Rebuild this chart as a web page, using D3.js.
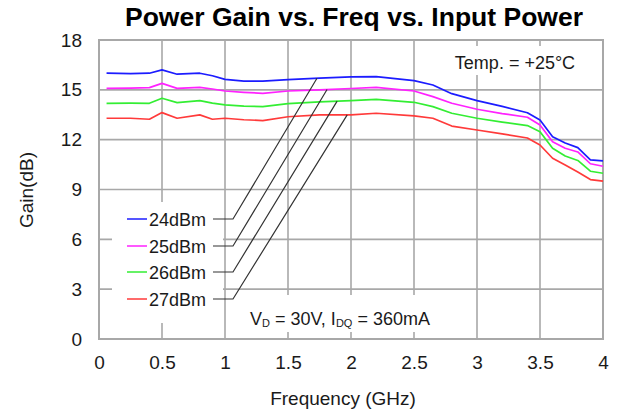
<!DOCTYPE html>
<html><head><meta charset="utf-8">
<script src="https://cdn.jsdelivr.net/npm/d3@7"></script>
<style>body{margin:0;background:#fff}svg{display:block;font-family:"Liberation Sans",Arial,sans-serif}</style>
</head><body><svg id="c" width="617" height="411"></svg>
<script>
const freq = [0.06,0.25,0.4,0.5,0.62,0.8,0.9,1.0,1.15,1.3,1.5,1.75,2.0,2.2,2.5,2.65,2.8,3.0,3.2,3.4,3.5,3.6,3.7,3.8,3.9,4.0];
const gain24 = [16.0,15.98,16.0,16.2,15.94,16.0,15.85,15.63,15.53,15.53,15.62,15.7,15.78,15.8,15.55,15.29,14.77,14.35,14.0,13.62,13.18,12.18,11.8,11.52,10.78,10.72];
const gain25 = [15.09,15.1,15.13,15.39,15.09,15.15,15.05,14.93,14.85,14.79,14.93,15.0,15.08,15.15,14.93,14.59,14.19,13.83,13.57,13.35,12.88,11.88,11.48,11.26,10.55,10.4];
const gain26 = [14.19,14.2,14.19,14.49,14.23,14.35,14.2,14.09,14.02,13.99,14.17,14.28,14.35,14.43,14.25,13.99,13.59,13.29,13.06,12.85,12.48,11.48,11.02,10.75,10.1,9.98];
const gain27 = [13.29,13.29,13.23,13.63,13.29,13.49,13.23,13.29,13.2,13.15,13.38,13.49,13.49,13.59,13.43,13.29,12.82,12.58,12.35,12.1,11.68,10.88,10.48,10.05,9.6,9.5];
const seriesNames = ["24dBm","25dBm","26dBm","27dBm"];
const seriesColors = ["#1c1cff","#ff22ff","#33ee33","#ff3a3a"];
const leaderFreq = [1.73,1.81,1.89,1.97];
const xTicks = [0,0.5,1,1.5,2,2.5,3,3.5,4];
const yTicks = [0,3,6,9,12,15,18];
const xTickLabels = ["0","0.5","1","1.5","2","2.5","3","3.5","4"];
const yTickLabels = ["0","3","6","9","12","15","18"];
const title = "Power Gain vs. Freq vs. Input Power";

const series = [gain24,gain25,gain26,gain27];
const svg = d3.select("#c");
const L=99,R=603,T=40,B=339;
const x = d3.scaleLinear().domain([0,4]).range([L,R]);
const y = d3.scaleLinear().domain([0,18]).range([B,T]);
const grid="#a8a8a8", txt="#1a1a1a";

svg.append("text").attr("x",354).attr("y",26).attr("text-anchor","middle")
  .attr("font-size",26.5).attr("font-weight","bold").attr("fill","#000").text(title);

// grid
const g = svg.append("g");
g.selectAll(".vx").data(xTicks.slice(1,-1)).join("line")
  .attr("x1",d=>x(d)).attr("x2",d=>x(d)).attr("y1",T).attr("y2",B)
  .attr("stroke",grid).attr("stroke-width",1.6);
g.selectAll(".hy").data(yTicks.slice(1,-1)).join("line")
  .attr("y1",d=>y(d)).attr("y2",d=>y(d)).attr("x1",L).attr("x2",R)
  .attr("stroke",grid).attr("stroke-width",1.6);
// white boxes hiding grid behind annotations
[[112,202,111,121],[240,295,225,37],[445,46,153,29]].forEach(b=>{
  svg.append("rect").attr("x",b[0]).attr("y",b[1]).attr("width",b[2]).attr("height",b[3]).attr("fill","#fff");
});
svg.append("rect").attr("x",L).attr("y",T).attr("width",R-L).attr("height",B-T)
  .attr("fill","none").attr("stroke",grid).attr("stroke-width",2);

// axes labels
const xa = d3.axisBottom(x).tickValues(xTicks).tickFormat((d,i)=>xTickLabels[i]).tickSize(0).tickPadding(17);
const xg = svg.append("g").attr("transform",`translate(0,${B})`).call(xa);
xg.select(".domain").remove();
xg.selectAll("text").attr("font-size",19).attr("fill",txt).attr("font-family","Liberation Sans, Arial, sans-serif");
const ya = d3.axisLeft(y).tickValues(yTicks).tickFormat((d,i)=>yTickLabels[i]).tickSize(0).tickPadding(17);
const yg = svg.append("g").attr("transform",`translate(${L},0)`).call(ya);
yg.select(".domain").remove();
yg.selectAll("text").attr("font-size",19).attr("fill",txt).attr("font-family","Liberation Sans, Arial, sans-serif");

svg.append("text").attr("x",(L+R)/2-8).attr("y",405).attr("text-anchor","middle")
  .attr("font-size",19).attr("fill",txt).text("Frequency (GHz)");
svg.append("text").attr("transform","translate(33,190) rotate(-90)").attr("text-anchor","middle")
  .attr("font-size",19).attr("fill",txt).text("Gain(dB)");

// curves
const line = d3.line().x((d,i)=>x(freq[i])).y(d=>y(d));
series.forEach((s,k)=>{
  svg.append("path").attr("d",line(s)).attr("fill","none")
    .attr("stroke",seriesColors[k]).attr("stroke-width",1.7).attr("stroke-linejoin","round");
});

// legend + leaders
const rowY = [219,246,272,299];
const interp = (s,f)=>{ for(let i=0;i<freq.length-1;i++){ if(f>=freq[i]&&f<=freq[i+1]){const t=(f-freq[i])/(freq[i+1]-freq[i]);return s[i]+t*(s[i+1]-s[i]);} } return s[s.length-1]; };
seriesNames.forEach((n,k)=>{
  svg.append("line").attr("x1",127).attr("x2",147).attr("y1",rowY[k]).attr("y2",rowY[k])
    .attr("stroke",seriesColors[k]).attr("stroke-width",1.5);
  svg.append("text").attr("x",149).attr("y",rowY[k]+6.5).attr("font-size",18).attr("fill",txt).text(n);
  const tx = x(leaderFreq[k]), ty = y(interp(series[k],leaderFreq[k]));
  svg.append("polyline").attr("points",`213,${rowY[k]} 233,${rowY[k]} ${tx},${ty}`)
    .attr("fill","none").attr("stroke","#333").attr("stroke-width",1.2);
});

svg.append("text").attr("x",515).attr("y",69).attr("text-anchor","middle").attr("font-size",18).attr("fill",txt).text("Temp. = +25°C");
const vd = svg.append("text").attr("x",250).attr("y",325).attr("font-size",18).attr("fill",txt);
vd.append("tspan").text("V");
vd.append("tspan").attr("font-size",11).attr("dy",2).text("D");
vd.append("tspan").attr("dy",-2).text(" = 30V, I");
vd.append("tspan").attr("font-size",11).attr("dy",2).text("DQ");
vd.append("tspan").attr("dy",-2).text(" = 360mA");
</script></body></html>
